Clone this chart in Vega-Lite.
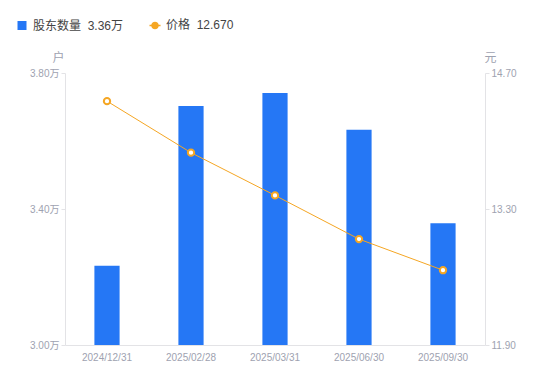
{
  "$schema": "https://vega.github.io/schema/vega-lite/v6.json",
  "width": 420,
  "height": 272,
  "autosize": {"type": "none"},
  "padding": {"left": 65, "top": 73, "right": 65, "bottom": 36},
  "background": "white",
  "config": {
    "view": {"stroke": null},
    "font": "'Liberation Sans', 'Noto Sans CJK SC', sans-serif",
    "axis": {"grid": false, "labelColor": "#9ea2b0", "labelFontSize": 10, "domainColor": "#e3e3e6", "tickColor": "#e3e3e6", "titleColor": "#9ea2b0", "titleFontWeight": "normal", "titleFontSize": 12}
  },
  "data": {
    "values": [
      {"date": "2024/12/31", "holders": 3.233, "price": 14.41},
      {"date": "2025/02/28", "holders": 3.703, "price": 13.88},
      {"date": "2025/03/31", "holders": 3.741, "price": 13.44},
      {"date": "2025/06/30", "holders": 3.633, "price": 12.99},
      {"date": "2025/09/30", "holders": 3.358, "price": 12.67}
    ]
  },
  "encoding": {
    "x": {
      "field": "date", "type": "nominal", "sort": null,
      "scale": {"paddingInner": 0, "paddingOuter": 0},
      "axis": {"title": null, "labelAngle": 0, "ticks": false, "labelPadding": 7, "domainColor": "#e3e3e6"}
    }
  },
  "layer": [
    {
      "mark": {"type": "bar", "width": {"band": 0.3}, "color": "#2577F5", "clip": true},
      "encoding": {
        "y": {
          "field": "holders", "type": "quantitative",
          "scale": {"domain": [3.0, 3.8], "zero": false, "nice": false},
          "axis": {"title": "户", "titleAngle": 0, "titleX": -7, "titleY": -16, "titleAlign": "center", "titleBaseline": "middle", "values": [3.0, 3.4, 3.8], "labelExpr": "format(datum.value, '.2f') + '万'", "tickSize": 4, "labelPadding": 2}
        },
        "color": {
          "datum": "股东数量",
          "scale": {"domain": ["股东数量", "价格"], "range": ["#2577F5", "#F5A623"]},
          "legend": {
            "title": null, "orient": "none", "legendX": -49, "legendY": -54, "direction": "horizontal",
            "symbolSize": 81, "labelFontSize": 12, "labelColor": "#444", "columnPadding": 22, "labelOffset": 5, "symbolStrokeWidth": 1.5,
            "labelExpr": "datum.label == '股东数量' ? '股东数量\u00a0 3.36万' : '价格\u00a0 12.670'",
            "encode": {
              "symbols": {
                "update": {
                  "shape": {"signal": "datum.value === '价格' ? 'M-1,0L-0.55,0M0.55,0L1,0M0.55,0A0.55,0.55 0 1,1 -0.55,0A0.55,0.55 0 1,1 0.55,0Z' : 'square'"},
                  "fill": {"signal": "datum.value === '价格' ? 'white' : '#2577F5'"},
                  "stroke": {"signal": "datum.value === '价格' ? '#F5A623' : '#2577F5'"},
                  "size": {"signal": "datum.value === '价格' ? 121 : 81"},
                  "strokeWidth": {"signal": "datum.value === '价格' ? 1.5 : 0"},
                  "opacity": {"value": 1}
                }
              }
            }
          }
        }
      }
    },
    {
      "layer": [
        {
          "mark": {"type": "line", "color": "#F5A623", "strokeWidth": 1},
          "encoding": {
            "y": {
              "field": "price", "type": "quantitative",
              "scale": {"domain": [11.9, 14.7], "zero": false, "nice": false},
              "axis": {"title": "元", "orient": "right", "titleAngle": 0, "titleX": 5, "titleY": -16, "titleAlign": "center", "titleBaseline": "middle", "values": [11.9, 13.3, 14.7], "format": ".2f", "tickSize": 4, "labelPadding": 2}
            }
          }
        },
        {
          "mark": {"type": "point", "shape": "circle", "filled": false, "fill": "white", "strokeWidth": 2, "size": 40, "opacity": 1},
          "encoding": {
            "y": {"field": "price", "type": "quantitative", "scale": {"domain": [11.9, 14.7], "zero": false, "nice": false}},
            "color": {"datum": "价格", "scale": {"domain": ["股东数量", "价格"], "range": ["#2577F5", "#F5A623"]}}
          }
        }
      ]
    }
  ],
  "resolve": {"scale": {"y": "independent"}}
}
